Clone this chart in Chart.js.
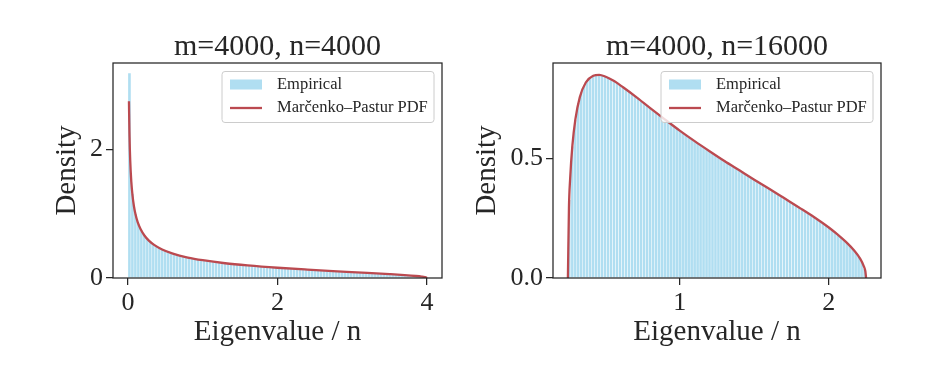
<!DOCTYPE html>
<html>
<head>
<meta charset="utf-8">
<script src="https://cdn.jsdelivr.net/npm/chart.js@4.4.1/dist/chart.umd.min.js"></script>
<style>
  html, body { margin: 0; padding: 0; background: #fff; }
  #wrap { position: relative; width: 939px; height: 378px; }
  .panel { position: absolute; top: 0; height: 378px; }
  #p1 { left: 0; width: 470px; }
  #p2 { left: 470px; width: 469px; }
</style>
</head>
<body>
<div id="wrap">
  <div class="panel" id="p1"><canvas id="c1"></canvas></div>
  <div class="panel" id="p2"><canvas id="c2"></canvas></div>
</div>
<script>
// histogram (m=4000, n=4000): 100 bins of width 0.04 starting at 0
const binStartSquare = 0;
const binWidthSquare = 0.04;
const histSquare = [
  3.178, 1.309, 0.999, 0.838, 0.734, 0.660, 0.604, 0.559, 0.522, 0.491,
  0.465, 0.442, 0.421, 0.403, 0.386, 0.372, 0.358, 0.346, 0.334, 0.323,
  0.313, 0.304, 0.295, 0.287, 0.279, 0.272, 0.265, 0.258, 0.252, 0.246,
  0.240, 0.235, 0.229, 0.224, 0.219, 0.215, 0.210, 0.205, 0.201, 0.197,
  0.193, 0.189, 0.185, 0.181, 0.178, 0.174, 0.171, 0.167, 0.164, 0.161,
  0.158, 0.154, 0.151, 0.148, 0.145, 0.143, 0.140, 0.137, 0.134, 0.131,
  0.129, 0.126, 0.123, 0.121, 0.118, 0.116, 0.113, 0.110, 0.108, 0.105,
  0.103, 0.100, 0.098, 0.096, 0.093, 0.091, 0.088, 0.086, 0.083, 0.081,
  0.078, 0.076, 0.073, 0.071, 0.068, 0.066, 0.063, 0.060, 0.057, 0.055,
  0.052, 0.049, 0.045, 0.042, 0.038, 0.035, 0.030, 0.025, 0.020, 0.011
];
// Marčenko–Pastur curve
const mpSquareX = [0.0134, 0.02, 0.03, 0.045, 0.06, 0.08, 0.10, 0.13, 0.17, 0.22, 0.28, 0.35, 0.45, 0.60,
  0.80, 1.00, 1.30, 1.60, 2.00, 2.40, 2.80, 3.20, 3.50, 3.70, 3.85, 3.93, 3.97, 3.99, 4.00];
const mpSquareY = [2.745, 2.245, 1.831, 1.492, 1.290, 1.114, 0.994, 0.868, 0.755, 0.660, 0.580, 0.514, 0.447, 0.379,
  0.318, 0.276, 0.229, 0.195, 0.159, 0.130, 0.104, 0.080, 0.060, 0.045, 0.031, 0.021, 0.014, 0.008, 0];

// histogram (m=4000, n=16000): 100 bins of width 0.02 starting at 0.25
const binStartWide = 0.25;
const binWidthWide = 0.02;
const histWide = [
  0.326, 0.550, 0.661, 0.731, 0.776, 0.806, 0.826, 0.838, 0.845, 0.848,
  0.849, 0.846, 0.842, 0.837, 0.830, 0.823, 0.815, 0.806, 0.797, 0.788,
  0.779, 0.769, 0.760, 0.750, 0.740, 0.730, 0.720, 0.711, 0.701, 0.691,
  0.682, 0.672, 0.663, 0.653, 0.644, 0.635, 0.625, 0.616, 0.607, 0.598,
  0.590, 0.581, 0.572, 0.564, 0.555, 0.547, 0.538, 0.530, 0.522, 0.513,
  0.505, 0.497, 0.489, 0.481, 0.473, 0.465, 0.457, 0.450, 0.442, 0.434,
  0.426, 0.419, 0.411, 0.403, 0.396, 0.388, 0.380, 0.373, 0.365, 0.357,
  0.350, 0.342, 0.334, 0.327, 0.319, 0.311, 0.303, 0.295, 0.287, 0.279,
  0.271, 0.263, 0.255, 0.246, 0.238, 0.229, 0.220, 0.211, 0.201, 0.191,
  0.181, 0.171, 0.160, 0.148, 0.136, 0.122, 0.107, 0.090, 0.069, 0.038
];
const mpWideX = [0.25, 0.257, 0.265, 0.28, 0.30, 0.33, 0.37, 0.42, 0.46, 0.50, 0.56, 0.62, 0.70, 0.80, 0.90,
  1.00, 1.10, 1.20, 1.30, 1.40, 1.50, 1.60, 1.70, 1.80, 1.90, 2.00, 2.06, 2.12, 2.17, 2.21, 2.235, 2.245, 2.25];
const mpWideY = [0, 0.293, 0.415, 0.553, 0.663, 0.756, 0.817, 0.845, 0.849, 0.842, 0.823, 0.797, 0.760, 0.711, 0.663,
  0.616, 0.572, 0.530, 0.489, 0.450, 0.411, 0.373, 0.334, 0.295, 0.255, 0.211, 0.181, 0.148, 0.115, 0.081, 0.049, 0.028, 0];

const squareXTicks = [0, 2, 4], squareXLabels = ['0', '2', '4'];
const squareYTicks = [0, 2], squareYLabels = ['0', '2'];
const wideXTicks = [1, 2], wideXLabels = ['1', '2'];
const wideYTicks = [0, 0.5], wideYLabels = ['0.0', '0.5'];

const ink = '#262626';
const red = '#bb4a50';
const blue = '#b0def1';
const serif = "'Liberation Serif', 'DejaVu Serif', serif";

// axes frame + matplotlib style legend box
const frameLegend = {
    id: 'frameLegend',
    afterDatasetsDraw(chart) {
        const ctx = chart.ctx;
        const a = chart.chartArea;
        ctx.save();
        ctx.strokeStyle = ink;
        ctx.lineWidth = 1.25;
        ctx.strokeRect(a.left, a.top, a.right - a.left, a.bottom - a.top);

        const w = 212, h = 51;
        const x = a.right - 8 - w, y = a.top + 8.5;
        ctx.beginPath();
        ctx.roundRect(x, y, w, h, 3);
        ctx.fillStyle = 'rgba(255,255,255,0.8)';
        ctx.fill();
        ctx.strokeStyle = '#cccccc';
        ctx.lineWidth = 1;
        ctx.stroke();

        const ds = chart.data.datasets;
        ctx.fillStyle = blue;
        ctx.fillRect(x + 8, y + 8, 32, 10);
        ctx.strokeStyle = red;
        ctx.lineWidth = 2.3;
        ctx.beginPath();
        ctx.moveTo(x + 8, y + 36.5);
        ctx.lineTo(x + 40, y + 36.5);
        ctx.stroke();

        ctx.fillStyle = ink;
        ctx.font = '16.5px ' + serif;
        ctx.textBaseline = 'middle';
        ctx.fillText(ds[1].label, x + 55, y + 13);
        ctx.fillText(ds[0].label, x + 55, y + 36);
        ctx.restore();
    }
};

function criarPainel(canvasId, p) {
    const barras = p.heights.map((h, i) => ({ x: p.binStart + (i + 0.5) * p.binWidth, y: h }));
    const curva = p.curveX.map((x, i) => ({ x: x, y: p.curveY[i] }));
    const tickStyle = { drawOnChartArea: false, drawTicks: true, offset: false, tickLength: 7, color: ink, lineWidth: 1.25 };

    return new Chart(document.getElementById(canvasId), {
        type: 'bar',
        data: {
            datasets: [{
                type: 'line',
                label: 'Marčenko–Pastur PDF',
                data: curva,
                borderColor: red,
                borderWidth: 2.3,
                pointRadius: 0,
                cubicInterpolationMode: 'monotone',
                fill: false
            }, {
                type: 'bar',
                label: 'Empirical',
                data: barras,
                backgroundColor: blue,
                borderColor: '#ffffff',
                borderWidth: { left: 0.5, right: 0.5, top: 0, bottom: 0 },
                borderSkipped: false,
                categoryPercentage: 1,
                barPercentage: 1,
                grouped: false
            }]
        },
        options: {
            responsive: true,
            maintainAspectRatio: false,
            animation: false,
            layout: { padding: { left: p.padLeft, right: p.padRight, top: 0, bottom: 31.5 } },
            plugins: {
                legend: { display: false },
                tooltip: { enabled: false },
                title: {
                    display: true,
                    text: p.title,
                    fullSize: false,
                    color: ink,
                    font: { family: serif, size: 30, weight: 'normal', lineHeight: 1 },
                    padding: { top: 32, bottom: 1 }
                }
            },
            scales: {
                x: {
                    type: 'linear',
                    min: p.xMin,
                    max: p.xMax,
                    offset: false,
                    afterBuildTicks: s => { s.ticks = p.xTicks.map(v => ({ value: v })); },
                    afterFit: s => { s.height = 68.5; },
                    grid: tickStyle,
                    border: { display: false },
                    ticks: {
                        color: ink, padding: 3, maxRotation: 0,
                        font: { family: serif, size: 26 },
                        callback: (v, i) => p.xLabels[i]
                    },
                    title: {
                        display: true, text: 'Eigenvalue / n', color: ink, padding: 0,
                        font: { family: serif, size: 29, lineHeight: 1 }
                    }
                },
                y: {
                    min: 0,
                    max: p.yMax,
                    afterBuildTicks: s => { s.ticks = p.yTicks.map(v => ({ value: v })); },
                    afterFit: s => { s.width = p.yWidth; },
                    grid: tickStyle,
                    border: { display: false },
                    ticks: {
                        color: ink, padding: 3,
                        font: { family: serif, size: 26 },
                        callback: (v, i) => p.yLabels[i]
                    },
                    title: {
                        display: true, text: 'Density', color: ink, padding: 0,
                        font: { family: serif, size: 29, lineHeight: 1 }
                    }
                }
            }
        },
        plugins: [frameLegend]
    });
}

criarPainel('c1', {
    title: 'm=4000, n=4000',
    heights: histSquare, binStart: binStartSquare, binWidth: binWidthSquare,
    curveX: mpSquareX, curveY: mpSquareY,
    xMin: -0.2, xMax: 4.2, yMax: 3.337,
    xTicks: squareXTicks, xLabels: squareXLabels,
    yTicks: squareYTicks, yLabels: squareYLabels,
    padLeft: 52.5, yWidth: 60.5, padRight: 28
});

criarPainel('c2', {
    title: 'm=4000, n=16000',
    heights: histWide, binStart: binStartWide, binWidth: binWidthWide,
    curveX: mpWideX, curveY: mpWideY,
    xMin: 0.15, xMax: 2.35, yMax: 0.8985,
    xTicks: wideXTicks, xLabels: wideXLabels,
    yTicks: wideYTicks, yLabels: wideYLabels,
    padLeft: 2.5, yWidth: 80.5, padRight: 58
});
</script>
</body>
</html>
